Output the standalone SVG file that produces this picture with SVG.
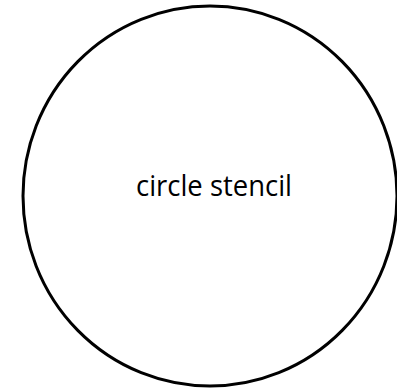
<svg xmlns="http://www.w3.org/2000/svg" width="397" height="392" viewBox="0 0 397 392">
<style>
.shape{fill:#ffffff;stroke:#000000;stroke-width:3}
.label{font-family:"Open Sans","Noto Sans",sans-serif;font-size:29px;fill:#000000;text-anchor:middle}
</style>
<rect width="397" height="392" fill="#ffffff"/>
<g id="circle-stencil">
<ellipse class="shape" cx="210" cy="196" rx="187" ry="190"/>
<text class="label" x="214" y="196" textLength="156" lengthAdjust="spacingAndGlyphs">circle stencil</text>
</g>
</svg>
